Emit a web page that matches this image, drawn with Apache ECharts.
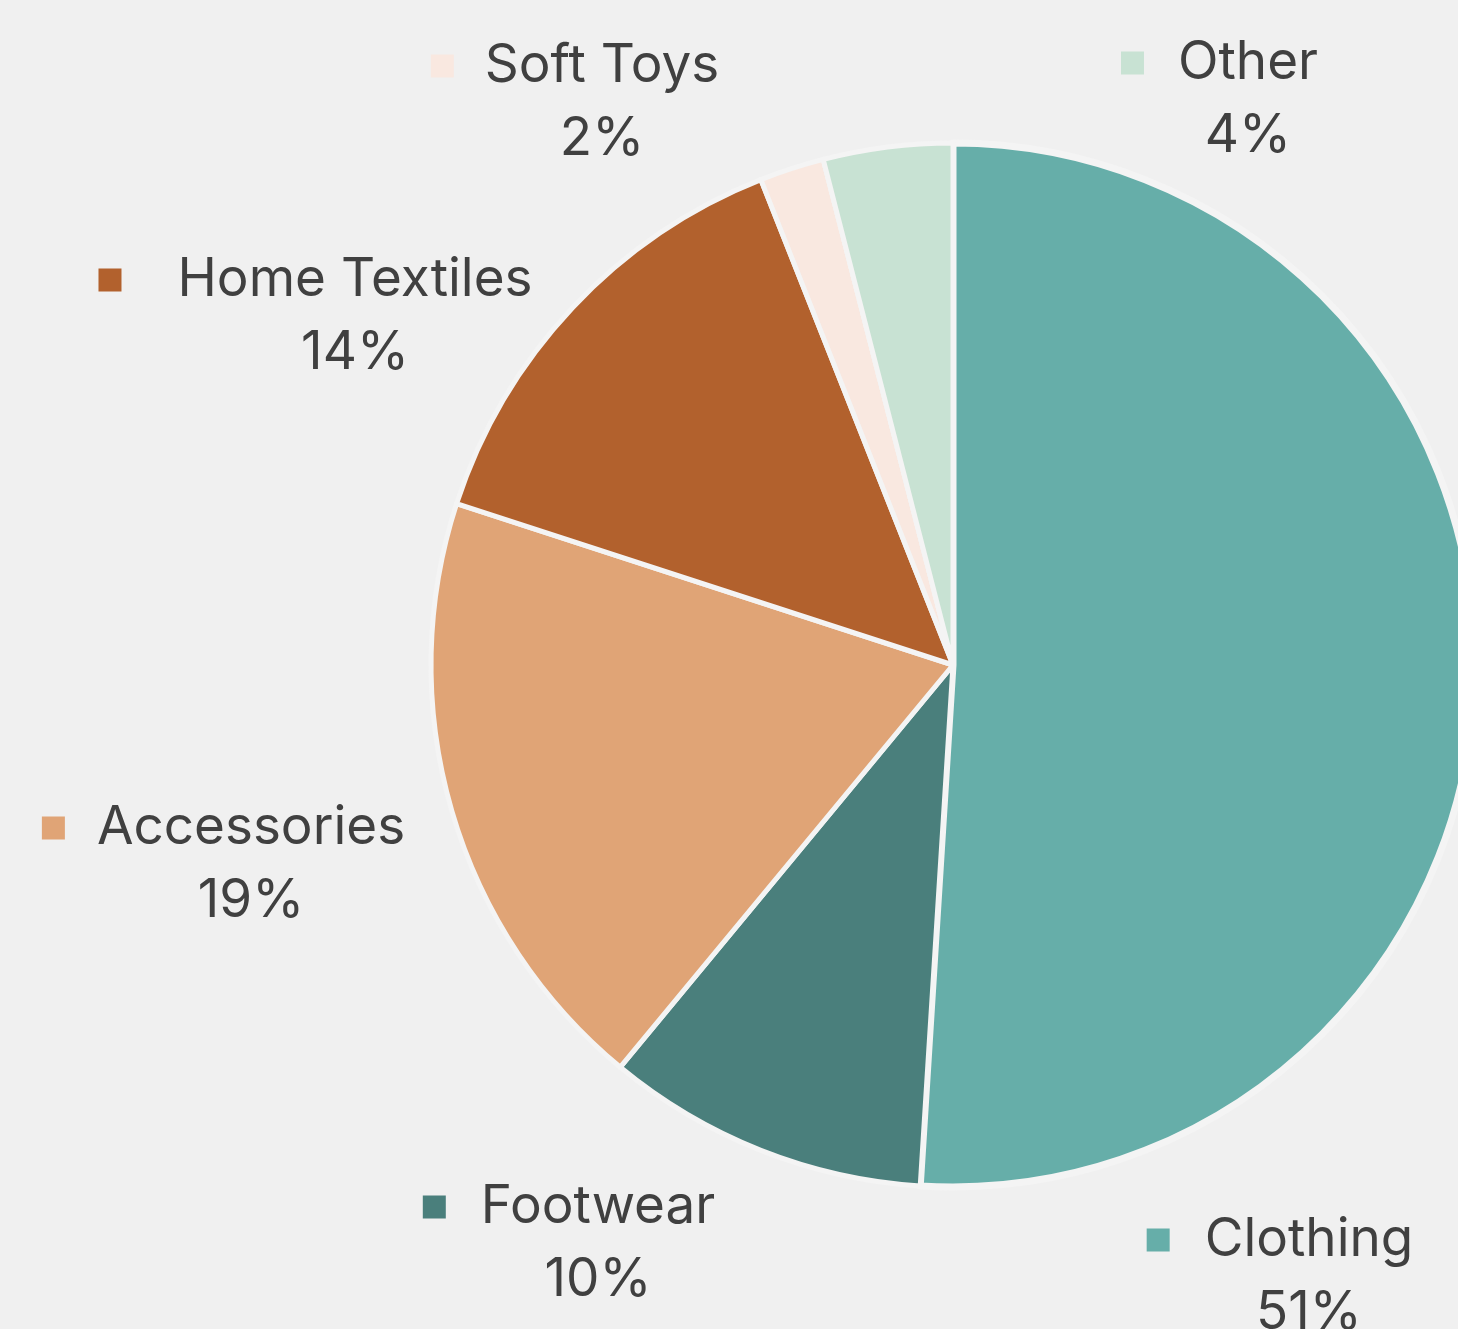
<!DOCTYPE html>
<html>
<head>
<meta charset="utf-8">
<script src="https://cdn.jsdelivr.net/npm/echarts@6/dist/echarts.min.js"></script>
<style>
  html, body { margin: 0; padding: 0; background: #f0f0f0; }
  #chart { width: 1458px; height: 1329px; }
</style>
</head>
<body>
<div id="chart"></div>
<script>
// ---- data ----
const CATEGORIES = ['Clothing', 'Footwear', 'Accessories', 'Home Textiles', 'Soft Toys', 'Other'];
const SHARES = [51, 10, 19, 14, 2, 4];
const COLORS = ['#66aea9', '#4a7f7c', '#e0a476', '#b2612d', '#f9e8e0', '#c8e2d3'];

// ---- styling / label layout (name centre x, first line middle y) ----
const BORDER_W = [7, 5, 5, 5, 5, 5];
const LABEL_POS = [[1309, 1240], [598, 1207], [251, 828], [355, 280], [602, 66], [1248, 63]];
const MARKER_GAP = [35, 35, 32, 56, 31, 34];
const MARKER = 23;
const LINE_H = 73;
const FONT = 'Inter, "Noto Sans", sans-serif';
const FONT_SIZE = 53;
const TEXT_COLOR = '#404040';

const rich = {};
CATEGORIES.forEach((c, i) => {
  rich['m' + i] = { width: MARKER, height: MARKER, backgroundColor: COLORS[i], align: 'left', verticalAlign: 'middle', lineHeight: LINE_H };
  rich['g' + i] = { width: MARKER_GAP[i], height: 1, align: 'left', verticalAlign: 'middle', lineHeight: LINE_H };
  rich['s' + i] = { width: MARKER + MARKER_GAP[i], height: 1, align: 'center', verticalAlign: 'middle', lineHeight: LINE_H };
});
rich.n = { fontFamily: FONT, fontSize: FONT_SIZE, color: TEXT_COLOR, align: 'left', verticalAlign: 'middle', lineHeight: LINE_H };
rich.p = { fontFamily: FONT, fontSize: FONT_SIZE, color: TEXT_COLOR, align: 'center', verticalAlign: 'middle', lineHeight: LINE_H };

function labelText(p) {
  const i = p.dataIndex;
  return '{m' + i + '|}{g' + i + '|}{n|' + p.name + '}\n{s' + i + '|}{p|' + Math.round(p.percent) + '%}';
}

const chart = echarts.init(document.getElementById('chart'), null, { renderer: 'canvas' });

const data = CATEGORIES.map((name, i) => ({
  name: name,
  value: SHARES[i],
  itemStyle: { color: COLORS[i], borderWidth: BORDER_W[i] }
}));

chart.setOption({
  backgroundColor: '#f0f0f0',
  animation: false,
  series: [{
    type: 'pie',
    center: [953, 665],
    radius: 522,
    startAngle: 90,
    clockwise: true,
    avoidLabelOverlap: false,
    itemStyle: { borderColor: '#f4f4f4', borderWidth: 5 },
    emphasis: { disabled: true },
    label: {
      show: true,
      position: 'inside',
      color: TEXT_COLOR,
      rich: rich,
      formatter: labelText
    },
    labelLine: { show: false },
    labelLayout: function (params) {
      const i = params.dataIndex;
      const pos = LABEL_POS[i];
      return {
        x: pos[0] - (MARKER + MARKER_GAP[i]) / 2,
        y: pos[1] + LINE_H / 2,
        align: 'center',
        verticalAlign: 'middle',
        hideOverlap: false
      };
    },
    data: data
  }]
});
</script>
</body>
</html>
